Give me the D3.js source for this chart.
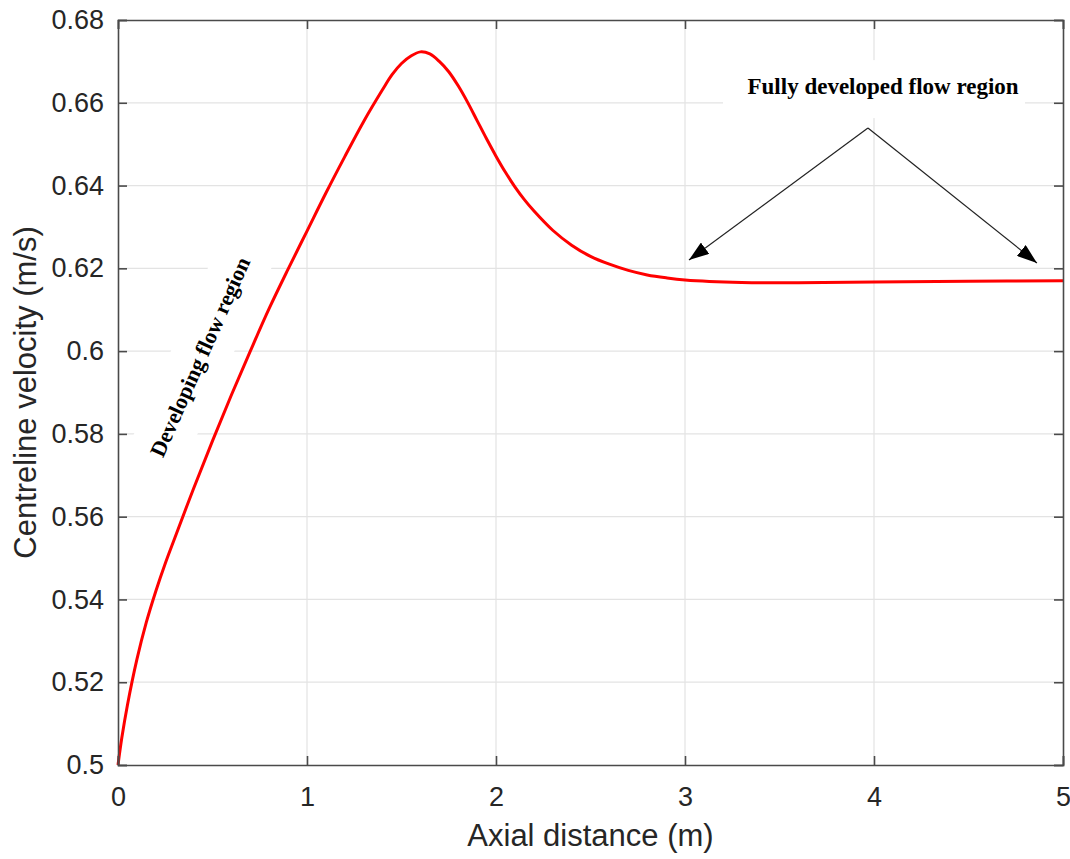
<!DOCTYPE html>
<html>
<head>
<meta charset="utf-8">
<script src="https://cdn.jsdelivr.net/npm/d3@7"></script>
<style>
  html, body { margin: 0; padding: 0; background: #ffffff; }
  svg { display: block; }
</style>
</head>
<body>
<svg id="chart" width="1070" height="859"></svg>
<script>
// ---- data ----
const axialDistance = [0, 0.02, 0.05, 0.1, 0.15, 0.2, 0.25, 0.3, 0.4, 0.5, 0.6, 0.7, 0.8, 0.9, 1.0, 1.1, 1.2, 1.3, 1.4, 1.45, 1.5, 1.55, 1.6, 1.65, 1.7, 1.75, 1.8, 1.85, 1.9, 1.95, 2.0, 2.05, 2.1, 2.15, 2.2, 2.3, 2.4, 2.5, 2.6, 2.7, 2.8, 2.9, 3.0, 3.3, 3.6, 4.0, 4.5, 5.0];
const centrelineVelocity = [0.5, 0.5065, 0.5145, 0.5255, 0.5345, 0.5420, 0.5487, 0.5548, 0.5668, 0.5783, 0.5894, 0.6000, 0.6103, 0.6198, 0.6290, 0.6382, 0.6470, 0.6555, 0.6632, 0.6668, 0.6695, 0.6713, 0.6723, 0.6718, 0.6700, 0.6675, 0.6641, 0.6601, 0.6557, 0.6513, 0.6471, 0.6432, 0.6397, 0.6366, 0.6339, 0.6292, 0.6256, 0.6229, 0.6210, 0.6195, 0.6184, 0.6177, 0.6172, 0.6166, 0.6165, 0.6167, 0.6169, 0.6170];
const xTicks = [0, 1, 2, 3, 4, 5];
const yTicks = [0.5, 0.52, 0.54, 0.56, 0.58, 0.6, 0.62, 0.64, 0.66, 0.68];
const yTickLabels = ["0.5", "0.52", "0.54", "0.56", "0.58", "0.6", "0.62", "0.64", "0.66", "0.68"];
const xLabel = "Axial distance (m)";
const yLabel = "Centreline velocity (m/s)";
const fullyText = "Fully developed flow region";
const developingText = "Developing flow region";
// annotation anchors in data units
const arrowApex = [3.968, 0.6539];
const arrowTips = [[3.021, 0.6220], [4.862, 0.6213]];
const fullyBox = [3.201, 4.799, 0.6703, 0.6563]; // x0, x1, yTop, yBottom
const fullyTextPos = [4.048, 0.6621];
const developingPos = [0.434, 0.5986];

// ---- layout ----
const svg = d3.select("#chart");
const L = 118, R = 1063, T = 20, B = 765;
const x = d3.scaleLinear().domain([0, 5]).range([L, R]);
const y = d3.scaleLinear().domain([0.5, 0.68]).range([B, T]);
const axisColor = "#4a4a4a";
const textColor = "#262626";

// grid
const grid = svg.append("g");
grid.selectAll("line.gx").data(xTicks.slice(1, -1)).join("line")
  .attr("x1", d => x(d)).attr("x2", d => x(d)).attr("y1", T).attr("y2", B)
  .attr("stroke", "#e3e3e3").attr("stroke-width", 1.2);
grid.selectAll("line.gy").data(yTicks.slice(1, -1)).join("line")
  .attr("y1", d => y(d)).attr("y2", d => y(d)).attr("x1", L).attr("x2", R)
  .attr("stroke", "#e3e3e3").attr("stroke-width", 1.2);

// white annotation boxes (cover grid)
svg.append("rect")
  .attr("x", x(fullyBox[0])).attr("y", y(fullyBox[2]))
  .attr("width", x(fullyBox[1]) - x(fullyBox[0]))
  .attr("height", y(fullyBox[3]) - y(fullyBox[2]))
  .attr("fill", "#ffffff");
const devG = svg.append("g")
  .attr("transform", `translate(${x(developingPos[0])},${y(developingPos[1])}) rotate(-66)`);
devG.append("rect").attr("x", -122).attr("y", -29).attr("width", 244).attr("height", 58).attr("fill", "#ffffff");

// curve
const pts = axialDistance.map((d, i) => [d, centrelineVelocity[i]]);
svg.append("path")
  .datum(pts)
  .attr("d", d3.line().x(d => x(d[0])).y(d => y(d[1])).curve(d3.curveCatmullRom.alpha(0.5)))
  .attr("fill", "none").attr("stroke", "#ff0000").attr("stroke-width", 3)
  .attr("stroke-linejoin", "round");

// axes (box style, ticks inside)
const tickLen = 9;
const axB = svg.append("g").attr("transform", `translate(0,${B})`)
  .call(d3.axisBottom(x).tickValues(xTicks).tickSize(-tickLen).tickPadding(22).tickFormat(d3.format("d")));
const axT = svg.append("g").attr("transform", `translate(0,${T})`)
  .call(d3.axisTop(x).tickValues(xTicks).tickSize(-tickLen).tickFormat(""));
const axL = svg.append("g").attr("transform", `translate(${L},0)`)
  .call(d3.axisLeft(y).tickValues(yTicks).tickSize(-tickLen).tickPadding(14).tickFormat((d, i) => yTickLabels[i]));
const axR = svg.append("g").attr("transform", `translate(${R},0)`)
  .call(d3.axisRight(y).tickValues(yTicks).tickSize(-tickLen).tickFormat(""));
[axB, axT, axL, axR].forEach(g => {
  g.select(".domain").attr("stroke", axisColor).attr("stroke-width", 1.6);
  g.selectAll(".tick line").attr("stroke", axisColor).attr("stroke-width", 1.6);
  g.selectAll(".tick text").attr("fill", textColor)
    .style("font-family", "'Liberation Sans', Arial, sans-serif").style("font-size", "27px");
});
axB.selectAll(".tick text").attr("dy", "0.71em");

// axis labels
svg.append("text").attr("x", (L + R) / 2).attr("y", 846).attr("text-anchor", "middle")
  .style("font-family", "'Liberation Sans', Arial, sans-serif").style("font-size", "31px")
  .attr("fill", textColor).text(xLabel);
svg.append("text").attr("transform", `translate(36,${(T + B) / 2}) rotate(-90)`).attr("text-anchor", "middle")
  .style("font-family", "'Liberation Sans', Arial, sans-serif").style("font-size", "31px")
  .attr("fill", textColor).text(yLabel);

// annotations
svg.append("text").attr("x", x(fullyTextPos[0])).attr("y", y(fullyTextPos[1])).attr("text-anchor", "middle")
  .style("font-family", "'Liberation Serif', 'Times New Roman', serif").style("font-weight", "bold").style("font-size", "23px")
  .attr("fill", "#000").text(fullyText);
devG.append("text").attr("x", 0).attr("y", 0).attr("text-anchor", "middle").attr("dominant-baseline", "central")
  .style("font-family", "'Liberation Serif', 'Times New Roman', serif").style("font-weight", "bold").style("font-size", "22px")
  .attr("fill", "#000").text(developingText);

// arrows
const defs = svg.append("defs");
defs.append("marker").attr("id", "ah").attr("viewBox", "0 0 20 14").attr("refX", 20).attr("refY", 7)
  .attr("markerWidth", 20).attr("markerHeight", 14).attr("markerUnits", "userSpaceOnUse").attr("orient", "auto")
  .append("path").attr("d", "M0,0 L20,7 L0,14 Z").attr("fill", "#000");
svg.selectAll("line.arrow").data(arrowTips).join("line")
  .attr("x1", x(arrowApex[0])).attr("y1", y(arrowApex[1]))
  .attr("x2", d => x(d[0])).attr("y2", d => y(d[1]))
  .attr("stroke", "#222").attr("stroke-width", 1.2).attr("marker-end", "url(#ah)");
</script>
</body>
</html>
